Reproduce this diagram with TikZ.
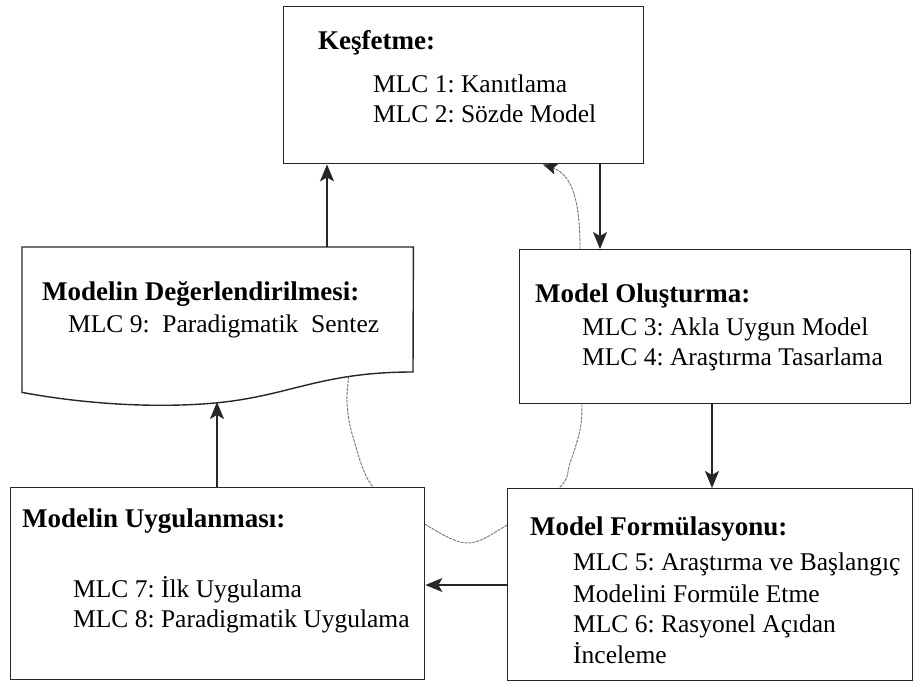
\documentclass[tikz,border=0pt]{standalone}
\usepackage{fontspec}
\setmainfont{Liberation Serif}
\usetikzlibrary{arrows.meta,backgrounds}
\frenchspacing
\begin{document}
\begin{tikzpicture}[x=1pt,y=-1pt,
  box/.style={draw=black!85, line width=1.4pt, fill=white, rectangle, inner sep=0pt, anchor=north west},
  ttl/.style={anchor=base west, inner sep=0pt, font=\fontsize{27}{32}\selectfont\bfseries},
  txt/.style={anchor=base west, inner sep=0pt, font=\fontsize{25.5}{31}\selectfont},
  arr/.style={draw=black!85, line width=1.4pt, -{Stealth[length=17pt,width=14pt,inset=4pt]}},
  cyc/.style={draw=black!55, line width=0.9pt, dash pattern=on 3pt off 1pt},
  cyctip/.style={-{Stealth[length=14pt,width=11pt,inset=3pt,black!85]}}]

\useasboundingbox (0,0) rectangle (915,682);

% stage boxes
\node[box, minimum width=360pt, minimum height=157pt] (k) at (283,6) {};
\node[box, minimum width=391pt, minimum height=154pt] (o) at (519,249) {};
\node[box, minimum width=414pt, minimum height=192pt] (u) at (10,487) {};
\node[box, minimum width=405pt, minimum height=192pt] (f) at (507,488) {};
\node[rectangle, inner sep=0pt, anchor=north west, minimum width=391pt, minimum height=145pt] (d) at (22,247) {};

% document-shaped outline of the evaluation stage
\draw[line width=1.4pt, draw=black!85, fill=white]
  (d.north west) -- (d.north east) -- (413,372)
  .. controls (320,372) and (290,396) .. (215,403)
  .. controls (160,408) and (90,405) .. (d.south west) -- cycle;

% the thin cycle running behind the boxes
\begin{scope}[on background layer]
  \fill[white] (0,0) rectangle (915,682);
  \draw[cyc] plot[smooth, tension=0.55] coordinates {
    (349,360) (349,372) (347,403) (353,437) (373,487) (423,523)
    (467,543) (507,525) (560,487) (570,463) (580,430) (582,403)
    (581,330) (580,300)};
\end{scope}
\coordinate (cycin) at (580,249);
\draw[cyc, cyctip] (cycin) .. controls (580,200) and (572,175) .. (543,0 |- k.south);

% texts
\node[ttl] (kt) at (318,50) {Keşfetme:};
\node[txt] (k1) at (373,93) {MLC 1: Kanıtlama};
\node[txt] (k2) at (373,123) {MLC 2: Sözde Model};

\node[ttl] (dt) at (42,300) {Modelin Değerlendirilmesi:};
\node[txt] (d1) at (68,332) {MLC 9:\ \ Paradigmatik\ \ Sentez};

\node[ttl] (ot) at (535,302) {Model Oluşturma:};
\node[txt] (o1) at (582,335) {MLC 3: Akla Uygun Model};
\node[txt] (o2) at (582,365) {MLC 4: Araştırma Tasarlama};

\node[ttl] (ut) at (22,527) {Modelin Uygulanması:};
\node[txt] (u1) at (73,597) {MLC 7: İlk Uygulama};
\node[txt] (u2) at (73,627) {MLC 8: Paradigmatik Uygulama};

\node[ttl] (ft) at (530,535) {Model Formülasyonu:};
\node[txt] (f1) at (573,570) {MLC 5: Araştırma ve Başlangıç};
\node[txt] (f2) at (573,602) {Modelini Formüle Etme};
\node[txt] (f3) at (573,632) {MLC 6: Rasyonel Açıdan};
\node[txt] (f4) at (573,663) {İnceleme};

% flow arrows
\coordinate (dwave) at (217,402);
\draw[arr] (600,0 |- k.south) -- (600,0 |- o.north);
\draw[arr] (712,0 |- o.south) -- (712,0 |- f.north);
\draw[arr] (f.west |- 0,585) -- (u.east |- 0,585);
\draw[arr] (217,0 |- u.north) -- (dwave);
\draw[arr] (327,0 |- d.north) -- (327,0 |- k.south);
\end{tikzpicture}
\end{document}
